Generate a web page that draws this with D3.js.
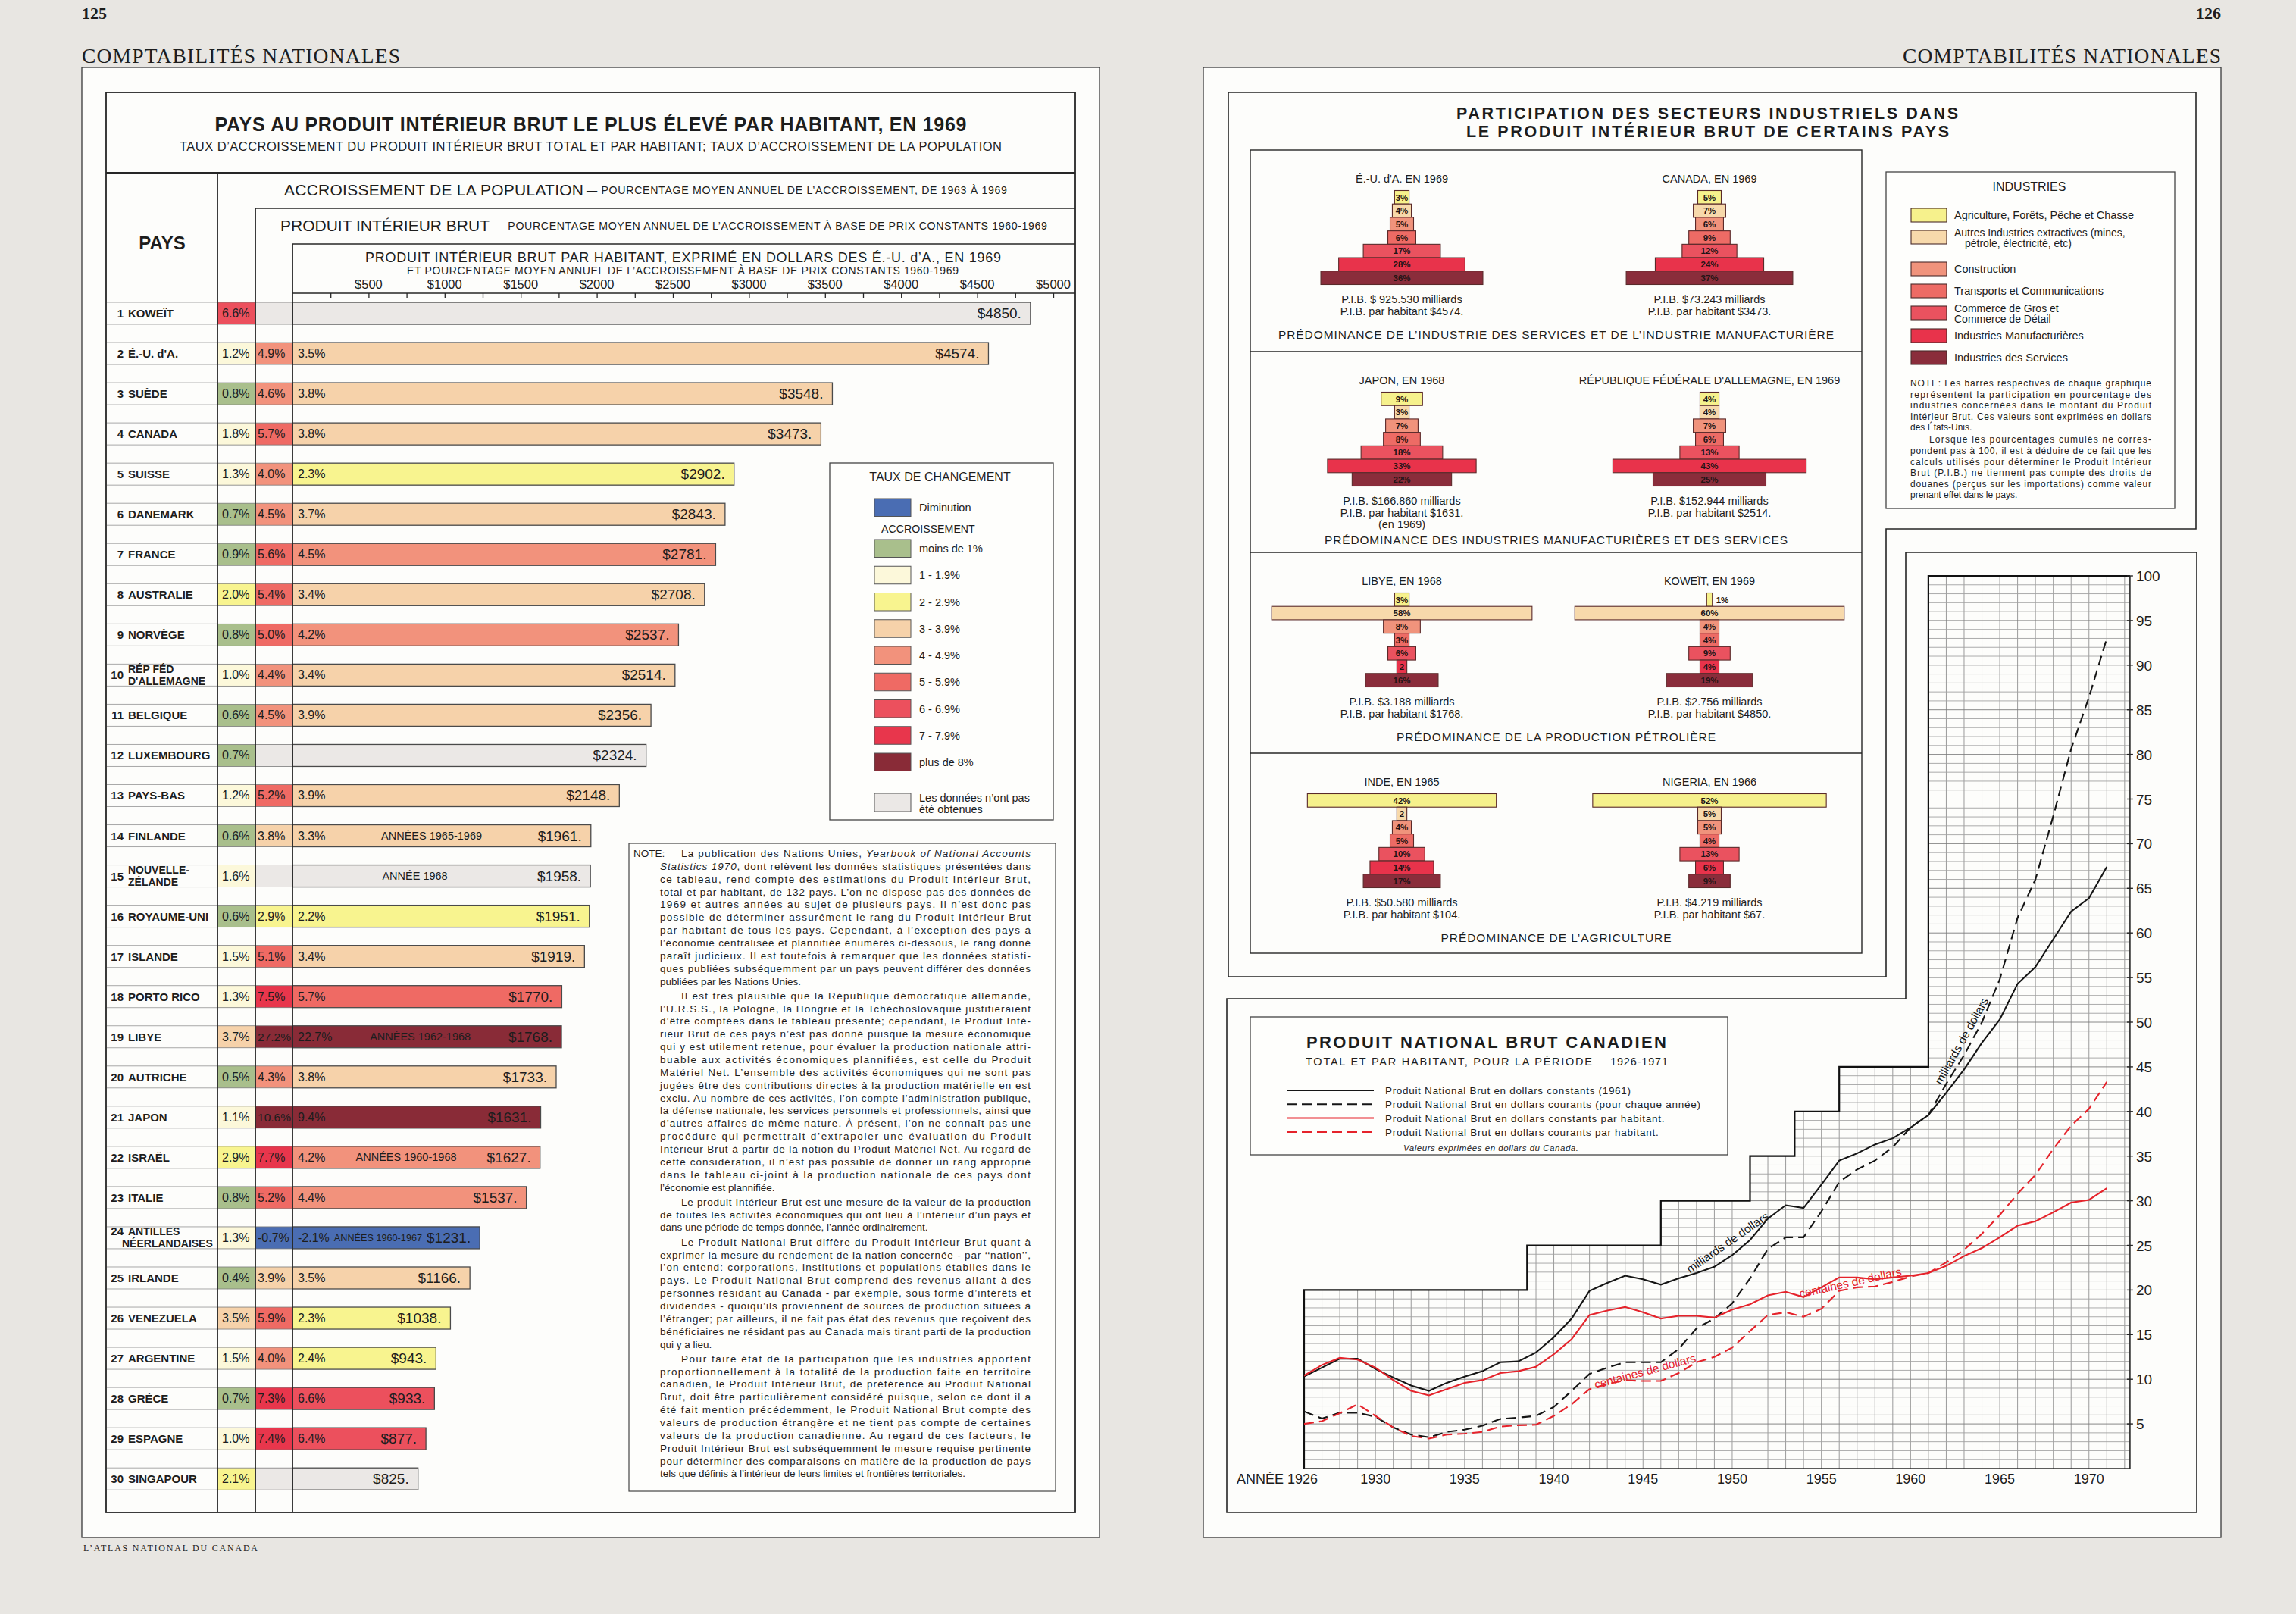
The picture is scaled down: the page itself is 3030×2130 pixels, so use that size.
<!DOCTYPE html>
<html lang="fr">
<head>
<meta charset="utf-8">
<title>Comptabilités nationales</title>
<script src="https://cdn.jsdelivr.net/npm/d3@7/dist/d3.min.js"></script>
<style>
  html, body { margin: 0; padding: 0; background: #e8e6e2; }
  svg { display: block; }
</style>
</head>
<body>
<script>
// ---------- page 125 : PIB par habitant, 1969 ----------
const countries = ["KOWEÏT", "É.-U. d'A.", "SUÈDE", "CANADA", "SUISSE", "DANEMARK", "FRANCE", "AUSTRALIE", "NORVÈGE",
  "RÉP  FÉD\nD'ALLEMAGNE", "BELGIQUE", "LUXEMBOURG", "PAYS-BAS", "FINLANDE", "NOUVELLE-\nZÉLANDE", "ROYAUME-UNI",
  "ISLANDE", "PORTO RICO", "LIBYE", "AUTRICHE", "JAPON", "ISRAËL", "ITALIE", "ANTILLES\nNÉERLANDAISES", "IRLANDE",
  "VENEZUELA", "ARGENTINE", "GRÈCE", "ESPAGNE", "SINGAPOUR"]
const popGrowth = [6.6, 1.2, 0.8, 1.8, 1.3, 0.7, 0.9, 2.0, 0.8, 1.0, 0.6, 0.7, 1.2, 0.6, 1.6, 0.6, 1.5, 1.3, 3.7, 0.5,
  1.1, 2.9, 0.8, 1.3, 0.4, 3.5, 1.5, 0.7, 1.0, 2.1]
const gdpGrowth = [null, 4.9, 4.6, 5.7, 4.0, 4.5, 5.6, 5.4, 5.0, 4.4, 4.5, null, 5.2, 3.8, null, 2.9, 5.1, 7.5, 27.2, 4.3,
  10.6, 7.7, 5.2, -0.7, 3.9, 5.9, 4.0, 7.3, 7.4, null]
const perCapitaGrowth = [null, 3.5, 3.8, 3.8, 2.3, 3.7, 4.5, 3.4, 4.2, 3.4, 3.9, null, 3.9, 3.3, null, 2.2, 3.4, 5.7, 22.7, 3.8,
  9.4, 4.2, 4.4, -2.1, 3.5, 2.3, 2.4, 6.6, 6.4, null]
const gdpPerCapita = [4850, 4574, 3548, 3473, 2902, 2843, 2781, 2708, 2537, 2514, 2356, 2324, 2148, 1961, 1958, 1951,
  1919, 1770, 1768, 1733, 1631, 1627, 1537, 1231, 1166, 1038, 943, 933, 877, 825]
const periodNotes = ["", "", "", "", "", "", "", "", "", "", "", "", "", "ANNÉES 1965-1969", "ANNÉE 1968", "", "", "",
  "ANNÉES 1962-1968", "", "", "ANNÉES 1960-1968", "", "ANNÉES 1960-1967", "", "", "", "", "", ""]
const dollarTicks = [500, 1000, 1500, 2000, 2500, 3000, 3500, 4000, 4500, 5000]

const rateBreaks = [0, 1, 2, 3, 4, 5, 6, 7, 8]
const rateColors = ["#4a6db3", "#a9bf8c", "#fcf8da", "#f8f48f", "#f6d2aa", "#f2927c", "#ef6a64", "#ec505d", "#e8364c", "#892b37"]
const rateLabels = ["Diminution", "moins de 1%", "1 - 1.9%", "2 - 2.9%", "3 - 3.9%", "4 - 4.9%", "5 - 5.9%", "6 - 6.9%", "7 - 7.9%", "plus de 8%"]
const noDataColor = "#ebe8e6"

const noteParas = [
  ["La publication des Nations Unies, |Yearbook of National Accounts|",
   "|Statistics 1970|, dont relèvent les données statistiques présentées dans",
   "ce tableau, rend compte des estimations du Produit Intérieur Brut,",
   "total et par habitant, de 132 pays. L’on ne dispose pas des données de",
   "1969 et autres années au sujet de plusieurs pays. Il n’est donc pas",
   "possible de déterminer assurément le rang du Produit Intérieur Brut",
   "par habitant de tous les pays. Cependant, à l’exception des pays à",
   "l’économie centralisée et plannifiée énumérés ci-dessous, le rang donné",
   "paraît judicieux. Il est toutefois à remarquer que les données statisti-",
   "ques publiées subséquemment par un pays peuvent différer des données",
   "publiées par les Nations Unies."],
  ["Il est très plausible que la République démocratique allemande,",
   "l’U.R.S.S., la Pologne, la Hongrie et la Tchéchoslovaquie justifieraient",
   "d’être comptées dans le tableau présenté; cependant, le Produit Inté-",
   "rieur Brut de ces pays n’est pas donné puisque la mesure économique",
   "qui y est utilement retenue, pour évaluer la production nationale attri-",
   "buable aux activités économiques plannifiées, est celle du Produit",
   "Matériel Net. L’ensemble des activités économiques qui ne sont pas",
   "jugées être des contributions directes à la production matérielle en est",
   "exclu. Au nombre de ces activités, l’on compte l’administration publique,",
   "la défense nationale, les services personnels et professionnels, ainsi que",
   "d’autres affaires de même nature. À présent, l’on ne connaît pas une",
   "procédure qui permettrait d’extrapoler une évaluation du Produit",
   "Intérieur Brut à partir de la notion du Produit Matériel Net. Au regard de",
   "cette considération, il n’est pas possible de donner un rang approprié",
   "dans le tableau ci-joint à la production nationale de ces pays dont",
   "l’économie est plannifiée."],
  ["Le produit Intérieur Brut est une mesure de la valeur de la production",
   "de toutes les activités économiques qui ont lieu à l’intérieur d’un pays et",
   "dans une période de temps donnée, l’année ordinairement."],
  ["Le Produit National Brut diffère du Produit Intérieur Brut quant à",
   "exprimer la mesure du rendement de la nation concernée - par ‘‘nation’’,",
   "l’on entend: corporations, institutions et populations établies dans le",
   "pays. Le Produit National Brut comprend des revenus allant à des",
   "personnes résidant au Canada - par exemple, sous forme d’intérêts et",
   "dividendes - quoiqu’ils proviennent de sources de production situées à",
   "l’étranger; par ailleurs, il ne fait pas état des revenus que reçoivent des",
   "bénéficiaires ne résidant pas au Canada mais tirant parti de la production",
   "qui y a lieu."],
  ["Pour faire état de la participation que les industries apportent",
   "proportionnellement à la totalité de la production faite en territoire",
   "canadien, le Produit Intérieur Brut, de préférence au Produit National",
   "Brut, doit être particulièrement considéré puisque, selon ce dont il a",
   "été fait mention précédemment, le Produit National Brut compte des",
   "valeurs de production étrangère et ne tient pas compte de certaines",
   "valeurs de la production canadienne. Au regard de ces facteurs, le",
   "Produit Intérieur Brut est subséquemment le mesure requise pertinente",
   "pour déterminer des comparaisons en matière de la production de pays",
   "tels que définis à l’intérieur de leurs limites et frontières territoriales."]
]

// ---------- page 126 : secteurs industriels ----------
const industries = ["Agriculture, Forêts, Pêche et Chasse", "Autres Industries extractives (mines,\npétrole, électricité, etc)",
  "Construction", "Transports et Communications", "Commerce de Gros et\nCommerce de Détail", "Industries Manufacturières",
  "Industries des Services"]
const industryColors = ["#f6f18c", "#f7d9ab", "#f0937c", "#ed6b65", "#ea525f", "#e8334b", "#8a2d3b"]
const pyramidTitles = ["É.-U. d'A. EN 1969", "CANADA, EN 1969", "JAPON, EN 1968", "RÉPUBLIQUE FÉDÉRALE D'ALLEMAGNE, EN 1969",
  "LIBYE, EN 1968", "KOWEÏT, EN 1969", "INDE, EN 1965", "NIGERIA, EN 1966"]
const pyramidShares = [
  [3, 4, 5, 6, 17, 28, 36],
  [5, 7, 6, 9, 12, 24, 37],
  [9, 3, 7, 8, 18, 33, 22],
  [4, 4, 7, 6, 13, 43, 25],
  [3, 58, 8, 3, 6, 2, 16],
  [1, 60, 4, 4, 9, 4, 19],
  [42, 2, 4, 5, 10, 14, 17],
  [52, 5, 5, 4, 13, 6, 9]
]
const pyramidGdp = ["P.I.B. $ 925.530 milliards", "P.I.B. $73.243 milliards", "P.I.B. $166.860 milliards", "P.I.B. $152.944 milliards",
  "P.I.B. $3.188 milliards", "P.I.B. $2.756 milliards", "P.I.B. $50.580 milliards", "P.I.B. $4.219 milliards"]
const pyramidGdpPerCapita = ["P.I.B. par habitant $4574.", "P.I.B. par habitant $3473.", "P.I.B. par habitant $1631.\n(en 1969)",
  "P.I.B. par habitant $2514.", "P.I.B. par habitant $1768.", "P.I.B. par habitant $4850.", "P.I.B. par habitant $104.",
  "P.I.B. par habitant $67."]
const panelCaptions = ["PRÉDOMINANCE DE L’INDUSTRIE DES SERVICES ET DE L’INDUSTRIE MANUFACTURIÈRE",
  "PRÉDOMINANCE DES INDUSTRIES MANUFACTURIÈRES ET DES SERVICES",
  "PRÉDOMINANCE DE LA PRODUCTION PÉTROLIÈRE", "PRÉDOMINANCE DE L’AGRICULTURE"]
const industriesNote = [
  ["NOTE: Les barres respectives de chaque graphique",
   "représentent la participation en pourcentage des",
   "industries concernées dans le montant du Produit",
   "Intérieur Brut. Ces valeurs sont exprimées en dollars",
   "des États-Unis."],
  ["Lorsque les pourcentages cumulés ne corres-",
   "pondent pas à 100, il est à déduire de ce fait que les",
   "calculs utilisés pour déterminer le Produit Intérieur",
   "Brut (P.I.B.) ne tiennent pas compte des droits de",
   "douanes (perçus sur les importations) comme valeur",
   "prenant effet dans le pays."]
]

// ---------- page 126 : produit national brut canadien ----------
const years = [1926, 1927, 1928, 1929, 1930, 1931, 1932, 1933, 1934, 1935, 1936, 1937, 1938, 1939, 1940, 1941, 1942, 1943,
  1944, 1945, 1946, 1947, 1948, 1949, 1950, 1951, 1952, 1953, 1954, 1955, 1956, 1957, 1958, 1959, 1960, 1961, 1962, 1963,
  1964, 1965, 1966, 1967, 1968, 1969, 1970, 1971]
const gnpConstant = [10.3, 11.3, 12.3, 12.3, 11.15, 10.2, 9.3, 8.7, 9.6, 10.3, 10.9, 11.9, 12.0, 13.0, 14.7, 16.8, 19.9, 20.8,
  21.6, 21.2, 20.6, 21.3, 21.9, 22.6, 23.9, 25.6, 28.0, 29.5, 29.2, 31.8, 34.5, 35.3, 36.3, 37.0, 38.2, 39.6, 42.1, 44.7,
  47.7, 50.3, 54.3, 56.2, 59.3, 62.4, 63.9, 67.4]
const gnpCurrent = [6.4, 5.6, 6.25, 6.25, 5.8, 4.6, 3.8, 3.5, 4.1, 4.35, 4.8, 5.55, 5.7, 5.9, 6.9, 8.7, 10.6, 11.3, 11.9, 11.9,
  11.9, 13.4, 15.7, 16.8, 18.5, 21.3, 24.6, 25.9, 25.9, 28.8, 32.1, 33.5, 34.5, 36.0, 38.2, 39.6, 43.1, 46.3, 50.0, 54.8,
  61.7, 66.0, 73.1, 80.6, 86.4, 93.0]
const perCapConstant = [10.4, 11.6, 12.4, 12.2, 11.3, 9.9, 8.7, 8.2, 8.9, 9.6, 9.9, 10.7, 10.9, 11.4, 12.8, 14.5, 17.2, 17.7,
  18.1, 17.5, 16.8, 17.1, 17.1, 16.9, 17.8, 18.4, 19.4, 19.8, 19.2, 20.3, 21.4, 21.4, 21.2, 21.4, 21.6, 21.9, 22.7, 23.8,
  24.7, 25.9, 27.2, 27.7, 28.7, 29.8, 30.1, 31.4]
const perCapCurrent = [5.0, 5.3, 6.2, 7.2, 5.9, 4.6, 3.65, 3.35, 3.8, 3.9, 4.1, 4.7, 4.85, 4.9, 5.9, 7.2, 8.9, 9.45, 9.9, 9.8,
  9.8, 10.7, 11.9, 12.5, 13.55, 15.4, 17.2, 17.5, 17.0, 17.9, 19.9, 20.3, 20.4, 20.9, 21.5, 21.9, 23.1, 24.5, 26.3, 28.4,
  30.8, 32.9, 35.8, 38.4, 40.3, 43.3]
const gnpSeries = ["Produit National Brut en dollars constants (1961)", "Produit National Brut en dollars courants (pour chaque année)",
  "Produit National Brut en dollars constants par habitant.", "Produit National Brut en dollars courants par habitant."]
const valueTicks = [5, 10, 15, 20, 25, 30, 35, 40, 45, 50, 55, 60, 65, 70, 75, 80, 85, 90, 95, 100]
const yearTicks = [1930, 1935, 1940, 1945, 1950, 1955, 1960, 1965, 1970]
// échelons du cadre quadrillé : [année de début, plafond]
const gridSteps = [[1926, 20], [1938.5, 25], [1946, 30], [1951, 35], [1953.5, 40], [1956, 45], [1961, 100]]

const sans = "'Liberation Sans', Arial, Helvetica, sans-serif"
const serif = "'Liberation Serif', 'Times New Roman', serif"
const ink = "#1d1d1d"
const lineInk = "#262626"

const svg = d3.select('body').append('svg')
  .attr('width', 3030)
  .attr('height', 2130)

const txt = (g, x, y, s, o = {}) => {
  const t = g.append('text')
    .attr('x', x)
    .attr('y', y)
    .attr('text-anchor', o.anchor || 'start')
    .attr('fill', o.fill || ink)
    .style('font-family', o.family || sans)
    .style('font-size', (o.size || 14) + 'px')
    .style('font-weight', o.weight || 400)
    .style('font-style', o.italic ? 'italic' : 'normal')
    .text(s)
  if (o.len) t.attr('textLength', o.len).attr('lengthAdjust', o.adjust || 'spacing')
  return t
}
// shrink the font of a label that is wider than the room it has
const fit = (t, room) => {
  const w = t.node().getComputedTextLength()
  if (w > room) t.style('font-size', (parseFloat(t.style('font-size')) * room / w).toFixed(2) + 'px')
  return t
}

const hline = (g, x1, x2, y, w = 1.6, c = lineInk) => g.append('line')
  .attr('x1', x1).attr('x2', x2).attr('y1', y).attr('y2', y)
  .attr('stroke', c).attr('stroke-width', w)
const vline = (g, x, y1, y2, w = 1.6, c = lineInk) => g.append('line')
  .attr('x1', x).attr('x2', x).attr('y1', y1).attr('y2', y2)
  .attr('stroke', c).attr('stroke-width', w)

// paper + page frames
svg.append('rect').attr('width', 3030).attr('height', 2130).attr('fill', '#e8e6e2')
;[108, 1588].forEach(x => svg.append('rect')
  .attr('x', x).attr('y', 89).attr('width', 1343).attr('height', 1940)
  .attr('fill', '#fdfdfb').attr('stroke', '#3a3a3a').attr('stroke-width', 1.3))

txt(svg, 108, 25, '125', { family: serif, size: 22, weight: 700 })
txt(svg, 2931, 25, '126', { family: serif, size: 22, weight: 700, anchor: 'end' })
txt(svg, 108, 83, 'COMPTABILITÉS NATIONALES', { family: serif, size: 27.5, len: 420 })
txt(svg, 2931, 83, 'COMPTABILITÉS NATIONALES', { family: serif, size: 27.5, len: 420, anchor: 'end' })
txt(svg, 110, 2047, 'L’ATLAS NATIONAL DU CANADA', { family: serif, size: 12, len: 230 })

// ================= LEFT PAGE =================
const left = svg.append('g')

const xDollar = d3.scaleLinear().domain([0, 5000]).range([386, 1390])
const yRow = d3.scalePoint().domain(countries).range([413.5, 1951.7])
const rateColor = d3.scaleThreshold().domain(rateBreaks).range(rateColors)
const fillFor = v => v == null ? noDataColor : rateColor(v)
const pct = v => v.toFixed(1) + '%'

left.append('rect')
  .attr('x', 140).attr('y', 122).attr('width', 1279).attr('height', 1874)
  .attr('fill', 'none').attr('stroke', lineInk).attr('stroke-width', 1.8)
hline(left, 140, 1419, 228, 1.8)

txt(left, 779.5, 172.5, 'PAYS AU PRODUIT INTÉRIEUR BRUT LE PLUS ÉLEVÉ PAR HABITANT, EN 1969',
  { size: 25, weight: 700, anchor: 'middle', len: 992 })
txt(left, 779.5, 199, 'TAUX D’ACCROISSEMENT DU PRODUIT INTÉRIEUR BRUT TOTAL ET PAR HABITANT; TAUX D’ACCROISSEMENT DE LA POPULATION',
  { size: 16.5, anchor: 'middle', len: 1085 })

txt(left, 214, 329, 'PAYS', { size: 24, weight: 700, anchor: 'middle' })

txt(left, 375, 258, 'ACCROISSEMENT DE LA POPULATION', { size: 21, len: 395 })
txt(left, 774, 256, '— POURCENTAGE MOYEN ANNUEL DE L’ACCROISSEMENT, DE 1963 À 1969', { size: 14.2, len: 555 })
hline(left, 337, 1419, 275, 1.6)
txt(left, 370, 305, 'PRODUIT INTÉRIEUR BRUT', { size: 21, len: 276 })
txt(left, 651, 303, '— POURCENTAGE MOYEN ANNUEL DE L’ACCROISSEMENT À BASE DE PRIX CONSTANTS 1960-1969', { size: 14.2, len: 731 })
hline(left, 386, 1419, 322, 1.6)
txt(left, 901.5, 346, 'PRODUIT INTÉRIEUR BRUT PAR HABITANT, EXPRIMÉ EN DOLLARS DES É.-U. d’A., EN 1969',
  { size: 18, anchor: 'middle', len: 839 })
txt(left, 901, 362, 'ET POURCENTAGE MOYEN ANNUEL DE L’ACCROISSEMENT À BASE DE PRIX CONSTANTS 1960-1969',
  { size: 14, anchor: 'middle', len: 728 })

// dollar axis
hline(left, 386, 1419, 387, 1.6)
left.append('g')
  .attr('transform', 'translate(0,387)')
  .call(d3.axisBottom(xDollar).tickValues(d3.range(250, 5001, 250)).tickSize(6).tickFormat('').tickSizeOuter(0))
  .call(g => g.select('.domain').remove())
  .call(g => g.selectAll('.tick line').attr('stroke', lineInk).attr('stroke-width', 1.3))
left.selectAll('text.dollar')
  .data(dollarTicks).join('text')
    .attr('class', 'dollar')
    .attr('x', d => xDollar(d))
    .attr('y', 381)
    .attr('text-anchor', 'middle')
    .attr('fill', ink)
    .style('font-family', sans)
    .style('font-size', '16.5px')
    .text(d => '$' + d)

// rows
const rows = left.selectAll('g.row')
  .data(countries).join('g')
    .attr('class', 'row')
    .attr('transform', d => `translate(0,${yRow(d)})`)

rows.each(function (name, i) {
  const g = d3.select(this)
  const lines = name.split('\n')
  const hang = lines.length > 1 && lines[1].length > 12

  g.append('line').attr('x1', 141).attr('x2', 287).attr('y1', -14.5).attr('y2', -14.5).attr('stroke', '#a8a8a8').attr('stroke-width', 1)
  g.append('line').attr('x1', 141).attr('x2', 287).attr('y1', 14.5).attr('y2', 14.5).attr('stroke', '#a8a8a8').attr('stroke-width', 1)

  const rankY = lines.length === 1 ? 5.5 : (hang ? -3 : 5.5)
  txt(g, 163, rankY, String(i + 1), { size: 15, weight: 700, anchor: 'end' })
  if (lines.length === 1) {
    fit(txt(g, 169, 5.5, lines[0], { size: 15, weight: 700 }), 114)
  } else {
    fit(txt(g, 169, -3, lines[0], { size: 14, weight: 700 }), 114)
    fit(txt(g, hang ? 161 : 169, 13, lines[1], { size: 14, weight: 700 }), hang ? 124 : 114)
  }

  g.append('rect').attr('x', 287).attr('y', -14.5).attr('width', 50).attr('height', 29)
    .attr('fill', fillFor(popGrowth[i])).attr('stroke', '#7a7a7a').attr('stroke-width', 0.8)
  g.append('rect').attr('x', 337).attr('y', -14.5).attr('width', 49).attr('height', 29)
    .attr('fill', fillFor(gdpGrowth[i])).attr('stroke', '#7a7a7a').attr('stroke-width', 0.8)
  g.append('rect').attr('x', 386).attr('y', -14.5)
    .attr('width', xDollar(gdpPerCapita[i]) - 386).attr('height', 29)
    .attr('fill', fillFor(perCapitaGrowth[i])).attr('stroke', '#4a4a4a').attr('stroke-width', 1.3)

  txt(g, 293, 5.5, pct(popGrowth[i]), { size: 16 })
  if (gdpGrowth[i] != null) fit(txt(g, 340, 5.5, pct(gdpGrowth[i]), { size: 16 }), 44)
  let pcEnd = 386
  if (perCapitaGrowth[i] != null) {
    const t = txt(g, 393, 5.5, pct(perCapitaGrowth[i]), { size: 16 })
    pcEnd = 393 + t.node().getComputedTextLength()
  }
  const v = txt(g, xDollar(gdpPerCapita[i]) - 12, 6.5, '$' + gdpPerCapita[i] + '.', { size: 19, anchor: 'end' })
  const valueStart = xDollar(gdpPerCapita[i]) - 12 - v.node().getComputedTextLength()
  if (periodNotes[i]) fit(txt(g, (pcEnd + valueStart) / 2, 5, periodNotes[i], { size: 14.5, anchor: 'middle' }), valueStart - pcEnd - 12)
})

vline(left, 287, 228, 1996, 1.8)
vline(left, 337, 275, 1996, 1.8)
vline(left, 386, 322, 1996, 1.8)

// legend: taux de changement
const lg = left.append('g')
lg.append('rect').attr('x', 1095).attr('y', 611).attr('width', 295).attr('height', 471)
  .attr('fill', '#fefefc').attr('stroke', '#444').attr('stroke-width', 1.3)
txt(lg, 1240.5, 635, 'TAUX DE CHANGEMENT', { size: 16, anchor: 'middle' })
txt(lg, 1163, 702.5, 'ACCROISSEMENT', { size: 14.2 })
const legendY = d3.scaleLinear().domain([1, 9]).range([712, 994])
rateLabels.forEach((label, k) => {
  const y = k === 0 ? 658 : legendY(k)
  lg.append('rect').attr('x', 1154).attr('y', y).attr('width', 48).attr('height', 23.5)
    .attr('fill', rateColors[k]).attr('stroke', '#555').attr('stroke-width', 1)
  txt(lg, 1213, y + 17, label, { size: 14.5 })
})
lg.append('rect').attr('x', 1154).attr('y', 1047).attr('width', 48).attr('height', 24)
  .attr('fill', noDataColor).attr('stroke', '#555').attr('stroke-width', 1)
txt(lg, 1213, 1057.5, 'Les données n’ont pas', { size: 14.5 })
txt(lg, 1213, 1073, 'été obtenues', { size: 14.5 })

// note
const nt = left.append('g')
nt.append('rect').attr('x', 830).attr('y', 1113).attr('width', 563).attr('height', 855)
  .attr('fill', '#fefefc').attr('stroke', '#444').attr('stroke-width', 1.2)
txt(nt, 836, 1131, 'NOTE:', { size: 13.5 })
let ny = 1131
noteParas.forEach(para => {
  para.forEach((line, k) => {
    const x0 = k === 0 ? 899 : 871
    const t = nt.append('text').attr('x', x0).attr('y', ny).attr('fill', ink)
      .style('font-family', sans).style('font-size', '13.5px')
    line.split('|').forEach((part, j) => t.append('tspan').style('font-style', j % 2 ? 'italic' : 'normal').text(part))
    if (k < para.length - 1) t.attr('textLength', 1360 - x0).attr('lengthAdjust', 'spacing')
    ny += 16.85
  })
  ny += 2.4
})

// ================= RIGHT PAGE =================
const right = svg.append('g')

right.append('path')
  .attr('d', 'M1621,122 H2898 V698 H2489 V1289 H1621 Z')
  .attr('fill', 'none').attr('stroke', lineInk).attr('stroke-width', 1.6)
txt(right, 2253, 157, 'PARTICIPATION DES SECTEURS INDUSTRIELS DANS', { size: 21.5, weight: 700, anchor: 'middle', len: 662 })
txt(right, 2253.5, 181, 'LE PRODUIT INTÉRIEUR BRUT DE CERTAINS PAYS', { size: 21.5, weight: 700, anchor: 'middle', len: 637 })

const panelTops = [198, 464, 729, 994]
right.append('rect').attr('x', 1650).attr('y', 198).attr('width', 807).attr('height', 1060)
  .attr('fill', 'none').attr('stroke', lineInk).attr('stroke-width', 1.4)
panelTops.slice(1).forEach(y => hline(right, 1650, 2457, y, 1.3))

const pyrWidth = d3.scaleLinear().domain([0, 100]).range([1.5, 591.5])
const pyrBand = d3.scaleBand().domain(d3.range(7)).range([0, 124]).padding(0)
const pyramidCenters = [1850, 2256]
const captionLens = [733, 611, 421, 304]

pyramidTitles.forEach((title, i) => {
  const cx = pyramidCenters[i % 2]
  const top = panelTops[Math.floor(i / 2)]
  const g = right.append('g')
  txt(g, cx, top + 42.5, title, { size: 14.5, anchor: 'middle' })
  g.selectAll('rect')
    .data(pyramidShares[i]).join('rect')
      .attr('x', d => cx - pyrWidth(d) / 2)
      .attr('y', (d, j) => top + 53.5 + pyrBand(j))
      .attr('width', d => pyrWidth(d))
      .attr('height', pyrBand.bandwidth())
      .attr('fill', (d, j) => industryColors[j])
      .attr('stroke', '#5a2a2a')
      .attr('stroke-width', 1.1)
  g.selectAll('text.share')
    .data(pyramidShares[i]).join('text')
      .attr('class', 'share')
      .attr('x', d => d < 2 ? cx + pyrWidth(d) / 2 + 5 : cx)
      .attr('y', (d, j) => top + 53.5 + pyrBand(j) + 13)
      .attr('text-anchor', d => d < 2 ? 'start' : 'middle')
      .attr('fill', '#231414')
      .style('font-family', sans)
      .style('font-size', '11.5px')
      .style('font-weight', 700)
      .text(d => d === 2 ? '2' : d + '%')
  txt(g, cx, top + 201.5, pyramidGdp[i], { size: 14.5, anchor: 'middle' })
  pyramidGdpPerCapita[i].split('\n').forEach((s, k) => txt(g, cx, top + 217.5 + k * 15.5, s, { size: 14.5, anchor: 'middle' }))
})
panelCaptions.forEach((c, p) => {
  const extra = pyramidGdpPerCapita[p * 2].includes('\n') || pyramidGdpPerCapita[p * 2 + 1].includes('\n') ? 5 : 0
  txt(right, 2053.5, panelTops[p] + 248.5 + extra, c, { size: 15.5, anchor: 'middle', len: captionLens[p] })
})

// industries legend
const il = right.append('g')
il.append('rect').attr('x', 2489).attr('y', 227).attr('width', 381).attr('height', 444)
  .attr('fill', '#fefefc').attr('stroke', '#444').attr('stroke-width', 1.3)
txt(il, 2678, 252, 'INDUSTRIES', { size: 16, anchor: 'middle' })
const swatchTops = [275, 304, 346, 375, 404, 434, 463]
industries.forEach((name, k) => {
  il.append('rect').attr('x', 2522).attr('y', swatchTops[k]).attr('width', 47).attr('height', 18)
    .attr('fill', industryColors[k]).attr('stroke', '#4a2a2a').attr('stroke-width', 1.1)
  const parts = name.split('\n')
  if (parts.length === 1) txt(il, 2579, swatchTops[k] + 14, name, { size: 14.5 })
  else {
    txt(il, 2579, swatchTops[k] + 7.5, parts[0], { size: 14 })
    txt(il, parts[1].startsWith('pétrole') ? 2593 : 2579, swatchTops[k] + 21.5, parts[1], { size: 14 })
  }
})
let iy = 510
industriesNote.forEach(para => {
  para.forEach((line, k) => {
    const x0 = k === 0 && para !== industriesNote[0] ? 2546 : 2521
    const t = txt(il, x0, iy, line, { size: 12 })
    if (k < para.length - 1) t.attr('textLength', 2839 - x0).attr('lengthAdjust', 'spacing')
    iy += 14.6
  })
  iy += 1.3
})

// ---- line chart ----
const lc = right.append('g')
lc.append('path')
  .attr('d', 'M2515,729 H2899 V1996 H1619 V1318 H2515 Z')
  .attr('fill', 'none').attr('stroke', lineInk).attr('stroke-width', 1.6)

const xYear = d3.scaleLinear().domain([1926, 1971]).range([1721, 2780.3])
const yVal = d3.scaleLinear().domain([0, 100]).range([1938, 760])
const xEnd = 1972.3

const outline = [[1926, 0]]
gridSteps.forEach(([yr, top], k) => {
  outline.push([yr, k === 0 ? top : gridSteps[k - 1][1]])
  outline.push([yr, top])
})
outline.push([xEnd, 100], [xEnd, 0])
const outlinePts = outline.map(([a, b]) => [xYear(a), yVal(b)])

lc.append('clipPath').attr('id', 'stairs')
  .append('polygon').attr('points', outlinePts.map(p => p.join(',')).join(' '))
lc.append('polygon').attr('points', outlinePts.map(p => p.join(',')).join(' ')).attr('fill', '#fdfdfb')

const grid = lc.append('g').attr('clip-path', 'url(#stairs)')
grid.selectAll('line.v')
  .data(d3.range(1926, 1973)).join('line')
    .attr('class', 'v')
    .attr('x1', d => xYear(d)).attr('x2', d => xYear(d))
    .attr('y1', yVal(0)).attr('y2', yVal(100))
    .attr('stroke', '#8e8e8e').attr('stroke-width', 0.9)
grid.selectAll('line.h')
  .data(d3.range(1, 100)).join('line')
    .attr('class', 'h')
    .attr('x1', xYear(1926)).attr('x2', xYear(xEnd))
    .attr('y1', d => yVal(d)).attr('y2', d => yVal(d))
    .attr('stroke', d => d % 5 === 0 ? '#7a7a7a' : '#a2a2a2').attr('stroke-width', 0.9)

lc.append('polyline')
  .attr('points', outlinePts.slice(0, -1).map(p => p.join(',')).join(' '))
  .attr('fill', 'none').attr('stroke', '#111').attr('stroke-width', 2.2)
hline(lc, xYear(1926), xYear(xEnd), yVal(0), 1.6)
vline(lc, xYear(xEnd), yVal(100), yVal(0), 1.6)

lc.selectAll('g.ytick')
  .data(valueTicks).join('g')
    .attr('class', 'ytick')
    .attr('transform', d => `translate(0,${yVal(d)})`)
    .call(g => g.append('line').attr('x1', xYear(xEnd) - 4).attr('x2', xYear(xEnd) + 4).attr('stroke', lineInk).attr('stroke-width', 1.4))
    .call(g => g.append('text')
      .attr('x', xYear(xEnd) + 8).attr('y', 7).attr('fill', ink)
      .style('font-family', sans).style('font-size', '19px')
      .text(d => d))

lc.selectAll('text.year')
  .data(yearTicks).join('text')
    .attr('class', 'year')
    .attr('x', d => xYear(d)).attr('y', 1958)
    .attr('text-anchor', 'middle').attr('fill', ink)
    .style('font-family', sans).style('font-size', '18px')
    .text(d => d)
txt(lc, xYear(1926) + 18, 1958, 'ANNÉE 1926', { size: 18, anchor: 'end' })

const seriesStyle = [
  { data: gnpConstant, color: '#151515', dash: null },
  { data: gnpCurrent, color: '#151515', dash: '13,7' },
  { data: perCapConstant, color: '#e5232b', dash: null },
  { data: perCapCurrent, color: '#e5232b', dash: '13,7' }
]
const line = d3.line().x((d, i) => xYear(years[i])).y(d => yVal(d))
seriesStyle.forEach(s => lc.append('path')
  .attr('d', line(s.data))
  .attr('fill', 'none')
  .attr('stroke', s.color)
  .attr('stroke-width', 2.1)
  .attr('stroke-dasharray', s.dash))

const inlineLabels = [
  { t: 'milliards de dollars', x: 2280, y: 1640, a: -34.8, c: '#151515' },
  { t: 'milliards de dollars', x: 2589, y: 1374, a: -60.8, c: '#151515' },
  { t: 'centaines de dollars', x: 2442, y: 1693, a: -12.5, c: '#e5232b' },
  { t: 'centaines de dollars', x: 2171, y: 1810, a: -15, c: '#e5232b' }
]
inlineLabels.forEach(l => lc.append('text')
  .attr('transform', `translate(${l.x},${l.y}) rotate(${l.a})`)
  .attr('text-anchor', 'middle').attr('y', 5).attr('fill', l.c)
  .style('font-family', sans).style('font-size', '15.5px')
  .text(l.t))

// legend box
const gl = lc.append('g')
gl.append('rect').attr('x', 1650).attr('y', 1342).attr('width', 630).attr('height', 182)
  .attr('fill', '#fefefc').attr('stroke', '#444').attr('stroke-width', 1.3)
txt(gl, 1961.5, 1383, 'PRODUIT NATIONAL BRUT CANADIEN', { size: 22, weight: 700, anchor: 'middle', len: 475 })
txt(gl, 1723, 1406, 'TOTAL ET PAR HABITANT, POUR LA PÉRIODE', { size: 14.5, len: 378 })
txt(gl, 2125, 1406, '1926-1971', { size: 14.5, len: 76 })
const legendLens = [324, 416, 368.6, 360.8]
gnpSeries.forEach((label, k) => {
  const y = 1439 + k * 18.3
  gl.append('line').attr('x1', 1698).attr('x2', 1813).attr('y1', y).attr('y2', y)
    .attr('stroke', seriesStyle[k].color).attr('stroke-width', 2).attr('stroke-dasharray', seriesStyle[k].dash)
  txt(gl, 1828, y + 5, label, { size: 13.5, len: legendLens[k] })
})
txt(gl, 1852, 1519, 'Valeurs exprimées en dollars du Canada.', { size: 11.5, italic: true, len: 231 })
</script>
</body>
</html>
